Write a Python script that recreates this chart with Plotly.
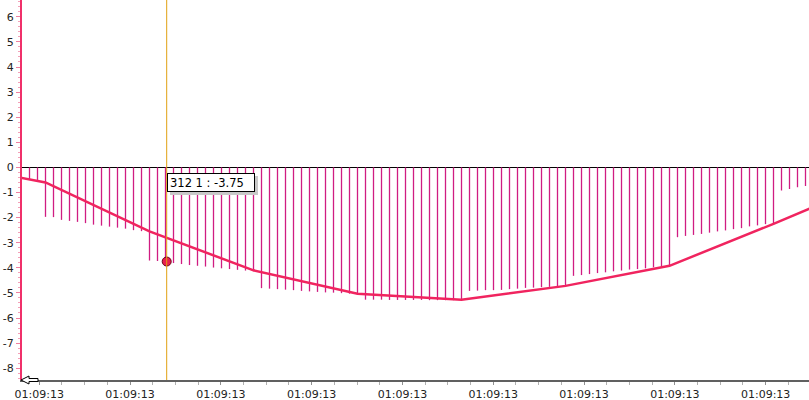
import plotly.graph_objects as go

# ---- data (bar index positions 0..97) ----
bar_values = [
    -0.48, -0.50,
    -1.97, -1.98, -2.09, -2.13, -2.17, -2.22, -2.28, -2.32, -2.36, -2.40, -2.44, -2.50, -2.54,
    -3.71, -3.73, -3.75, -3.81, -3.85, -3.89, -3.92, -3.95, -3.99, -4.02, -4.05, -4.08, -4.11, -4.14,
    -4.81, -4.83, -4.85, -4.87, -4.89, -4.92, -4.94, -4.96, -4.98, -4.99, -5.01, -5.03, -5.05,
    -5.27, -5.27, -5.27, -5.28, -5.28, -5.28, -5.28, -5.28, -5.29, -5.29, -5.29, -5.29, -5.29,
    -4.92, -4.91, -4.89, -4.89, -4.88, -4.85, -4.83, -4.80, -4.79, -4.77, -4.76, -4.75, -4.73,
    -4.32, -4.29, -4.25, -4.21, -4.18, -4.14, -4.11, -4.07, -4.05, -4.02, -3.98, -3.95, -3.92,
    -2.78, -2.73, -2.69, -2.65, -2.60, -2.55, -2.51, -2.46, -2.42, -2.35, -2.31, -2.26, -2.22,
    -0.92, -0.86, -0.79, -0.74,
]
bar_index = list(range(len(bar_values)))

line_index = [-1, 2, 15, 28, 41, 54, 67, 80, 93, 97.6]
line_values = [-0.42, -0.60, -2.55, -4.10, -5.03, -5.27, -4.72, -3.92, -2.25, -1.63]

cursor_index = 17.15
cursor_value = -3.75
tooltip_text = "312 1 : -3.75"

x_tick_positions = [1.22, 12.57, 23.92, 35.27, 46.62, 57.97, 69.32, 80.67, 92.02]
x_tick_labels = ["01:09:13"] * 9
y_tick_values = [-8, -7, -6, -5, -4, -3, -2, -1, 0, 1, 2, 3, 4, 5, 6]
y_tick_labels = ["-8", "-7", "-6", "-5", "-4", "-3", "-2", "-1", "0", "1", "2", "3", "4", "5", "6"]

FONT = "DejaVu Sans"

# histogram drawn as thin vertical stems from zero to each value
stem_x, stem_y = [], []
for i, v in zip(bar_index, bar_values):
    stem_x += [i, i, None]
    stem_y += [0, v, None]

fig = go.Figure()
fig.add_trace(go.Scatter(
    x=stem_x, y=stem_y, mode="lines", connectgaps=False,
    line=dict(color="#d01c82", width=1.3),
    hoverinfo="skip",
))
fig.add_trace(go.Scatter(
    x=line_index, y=line_values, mode="lines",
    line=dict(color="#f0245f", width=2.5),
    hoverinfo="skip",
))
fig.add_trace(go.Scatter(
    x=[cursor_index], y=[cursor_value], mode="markers",
    marker=dict(size=9, color="#e8204d", line=dict(color="#6a0018", width=1)),
    hoverinfo="skip",
))

fig.add_shape(type="line", xref="x", yref="paper", x0=cursor_index, x1=cursor_index,
              y0=0, y1=1, line=dict(color="#e0a010", width=1), layer="above")

# arrow icon at bottom-left
fig.add_shape(type="path", xref="paper", yref="paper", xsizemode="pixel", ysizemode="pixel",
              xanchor=0, yanchor=0,
              path="M -1,0 L 7,4 L 7,1.5 L 16,1.5 L 16,-1.5 L 7,-1.5 L 7,-4 Z",
              fillcolor="white", line=dict(color="black", width=1), layer="above")

# tooltip shadow + tooltip
fig.add_annotation(x=cursor_index, xref="x", y=1 - 173 / 380, yref="paper",
                   xanchor="left", yanchor="top", text=" ", showarrow=False,
                   width=82, height=13, bgcolor="#c8c8c8", bordercolor="#c8c8c8",
                   borderwidth=1, borderpad=2, xshift=3, yshift=-3)
fig.add_annotation(x=cursor_index, xref="x", y=1 - 173 / 380, yref="paper",
                   xanchor="left", yanchor="top", text=tooltip_text, showarrow=False,
                   width=82, height=13, align="left", bgcolor="white",
                   bordercolor="black", borderwidth=1, borderpad=2,
                   font=dict(family=FONT, size=11.5, color="black"))

fig.update_layout(
    width=809, height=400,
    margin=dict(l=22, r=0, t=0, b=20),
    paper_bgcolor="white", plot_bgcolor="white",
    showlegend=False,
    font=dict(family=FONT, size=11, color="#222222"),
)
fig.update_xaxes(
    automargin=False,
    range=[-0.9375, 97.4375], showgrid=False, zeroline=False,
    showline=True, linecolor="#606060", linewidth=2,
    tickmode="array", tickvals=x_tick_positions, ticktext=x_tick_labels,
    ticks="outside", ticklen=3, tickcolor="#909090", tickwidth=1,
    minor=dict(tickmode="linear", tick0=1.22, dtick=2.8375, ticks="outside",
               ticklen=3, tickcolor="#b0b0b0", tickwidth=1),
    tickfont=dict(family=FONT, size=11, color="#222222"),
)
fig.update_yaxes(
    automargin=False,
    range=[-8.47, 6.67], showgrid=False,
    zeroline=True, zerolinecolor="black", zerolinewidth=1,
    showline=True, linecolor="#f0306a", linewidth=2,
    tickmode="array", tickvals=y_tick_values, ticktext=y_tick_labels,
    ticks="outside", ticklen=4, tickcolor="#f080a0", tickwidth=1,
    minor=dict(tickmode="linear", tick0=0, dtick=0.2, ticks="outside",
               ticklen=2, tickcolor="#f4a0b8", tickwidth=1),
    tickfont=dict(family=FONT, size=11, color="#222222"),
)

fig.write_html("out.html", config={"displayModeBar": False},
               post_script="document.body.style.margin='0';document.body.style.overflow='hidden';")
